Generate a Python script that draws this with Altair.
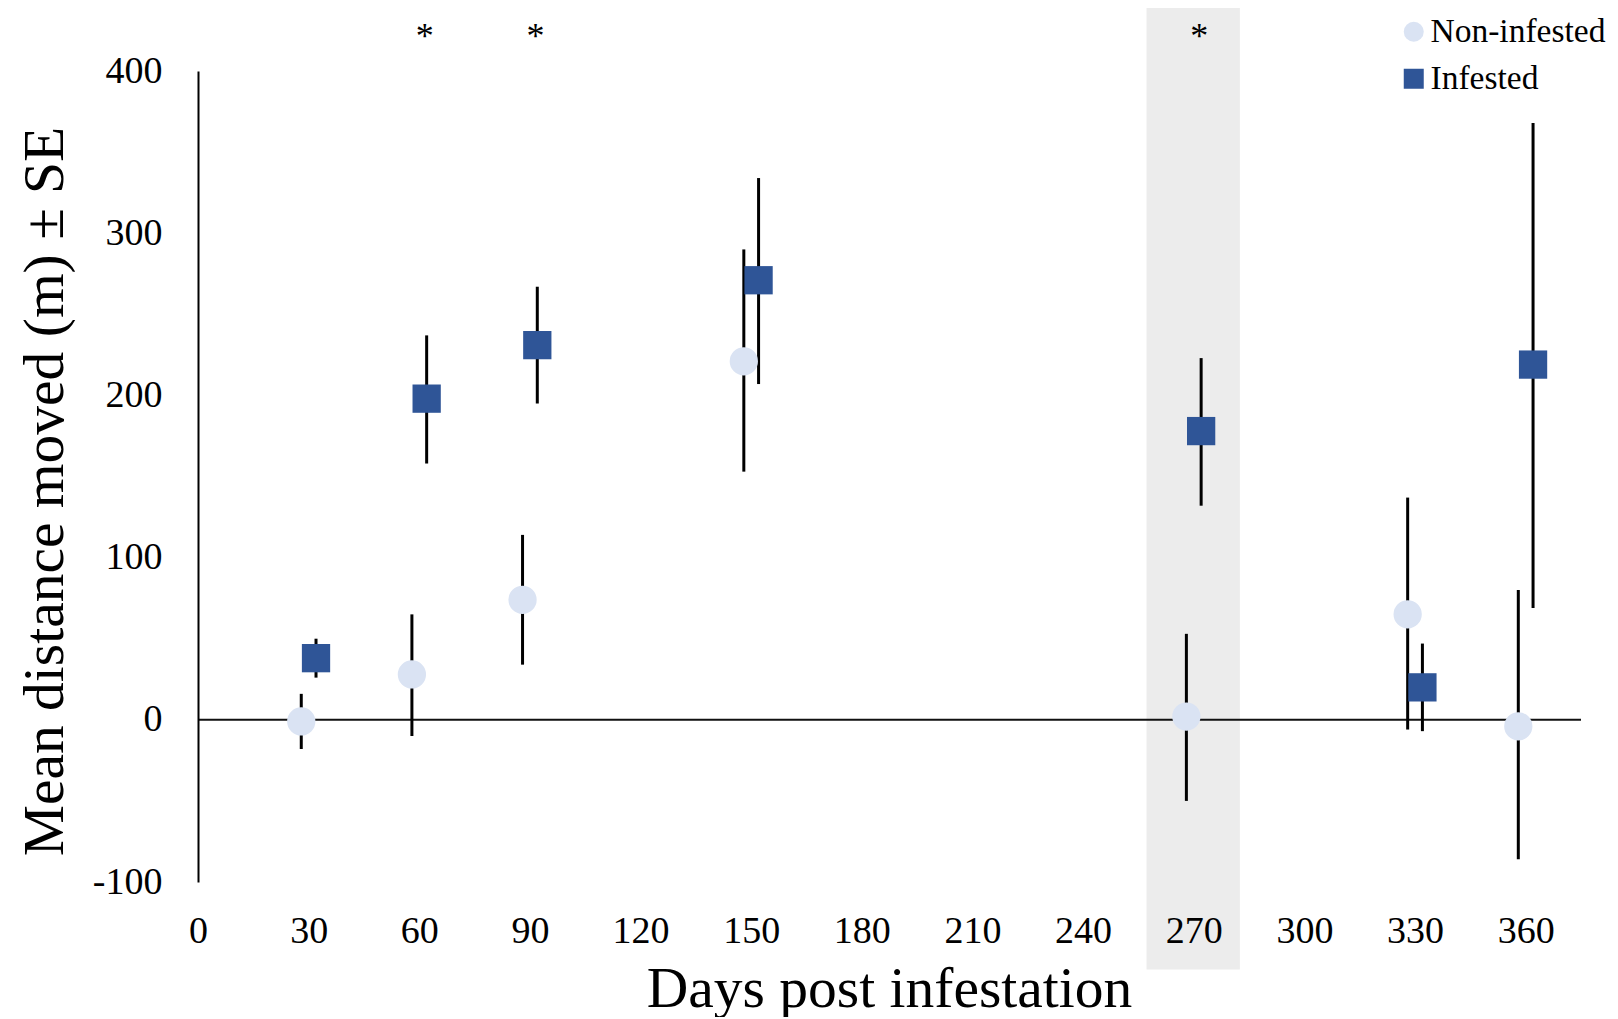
import altair as alt
import pandas as pd

# ---- data ----
days = [30, 60, 90, 150, 270, 330, 360]
non_mean = [-1, 28, 74, 221, 2, 65, -4]
non_low = [-18, -10, 34, 153, -50, -6, -86]
non_high = [16, 65, 114, 290, 53, 137, 80]
inf_mean = [38, 198, 231, 271, 178, 20, 219]
inf_low = [26, 158, 195, 207, 132, -7, 69]
inf_high = [50, 237, 267, 334, 223, 47, 368]
series = ["Non-infested", "Infested"]
series_colors = ["#DAE3F3", "#2F5597"]
series_shapes = ["circle", "square"]
sig_days = [60, 90, 270]
band_days = [257.2, 282.5]
x_ticks = [0, 30, 60, 90, 120, 150, 180, 210, 240, 270, 300, 330, 360]
y_ticks = [-100, 0, 100, 200, 300, 400]

FONT = "Liberation Serif"

rows = []
for i, d in enumerate(days):
    rows.append({"day": d, "group": series[0], "mean": non_mean[i], "low": non_low[i], "high": non_high[i]})
for i, d in enumerate(days):
    rows.append({"day": d, "group": series[1], "mean": inf_mean[i], "low": inf_low[i], "high": inf_high[i]})
df = pd.DataFrame(rows)

band_df = pd.DataFrame({"b0": [band_days[0]], "b1": [band_days[1]]})
zero_df = pd.DataFrame({"y": [0]})
sig_df = pd.DataFrame({"day": sig_days, "label": ["*"] * len(sig_days)})

xscale = alt.Scale(domain=[0, 375], nice=False, zero=False)
yscale = alt.Scale(domain=[-100, 400], nice=False, zero=False)

common_axis = dict(
    labelFont=FONT, labelFontSize=38, labelColor="black",
    titleFont=FONT, titleFontSize=57.5, titleFontWeight="normal", titleColor="black",
    ticks=False, tickSize=0, labelFlush=False, labelOverlap=False, grid=False,
    labelExpr="'' + datum.value",
)

xaxis = alt.Axis(
    values=x_ticks, title="Days post infestation", domain=False,
    labelPadding=60, labelBaseline="alphabetic",
    titleX=691, titleY=124, titleBaseline="alphabetic", titleAlign="center", zindex=2,
    **common_axis,
)
yaxis = alt.Axis(
    values=y_ticks, title="Mean distance moved (m) \u00b1 SE", domain=True, domainColor="black",
    domainWidth=2, labelPadding=36,
    titleX=-136, titleY=420, titleBaseline="alphabetic", titleAlign="center", titleAngle=270,
    zindex=2,
    **common_axis,
)

xpos = alt.X("xpos:Q", scale=xscale, axis=xaxis)

band = alt.Chart(band_df).mark_rect(color="#ececec", clip=False).encode(
    x=alt.X("b0:Q", scale=xscale, axis=xaxis),
    x2="b1:Q",
    y=alt.datum(440, scale=yscale, axis=yaxis),
    y2=alt.datum(-154),
)

zero = alt.Chart(zero_df).mark_rule(color="#111111", strokeWidth=2).encode(
    y=alt.Y("y:Q", scale=yscale, axis=yaxis)
)

base = alt.Chart(df).transform_calculate(
    xpos="datum.day + (datum.group == 'Infested' ? 2 : -2)"
)

errbars = base.mark_rule(color="black", strokeWidth=3).encode(
    x=xpos,
    y=alt.Y("low:Q", scale=yscale, axis=yaxis),
    y2="high:Q",
)

legend = alt.Legend(
    title=None, orient="none", legendX=1199, legendY=-56, symbolSize=400,
    labelFont=FONT, labelFontSize=33.5, labelColor="black", labelOffset=0, labelLimit=0,
    rowPadding=12, padding=0, symbolStrokeWidth=0,
)

points = base.mark_point(filled=True, opacity=1, size=800, strokeWidth=0).encode(
    x=xpos,
    y=alt.Y("mean:Q", scale=yscale, axis=yaxis),
    color=alt.Color("group:N", scale=alt.Scale(domain=series, range=series_colors), legend=legend),
    shape=alt.Shape("group:N", scale=alt.Scale(domain=series, range=series_shapes), legend=legend),
)

stars = alt.Chart(sig_df).transform_calculate(sx="datum.day + 1.5").mark_text(
    font=FONT, fontSize=36, baseline="alphabetic", align="center", color="black", clip=False
).encode(
    x=alt.X("sx:Q", scale=xscale, axis=xaxis),
    y=alt.datum(414, scale=yscale),
    text="label:N",
)

chart = alt.layer(band, zero, errbars, points, stars).properties(
    width=1383, height=811,
    autosize=alt.AutoSizeParams(type="none"),
    padding={"left": 190, "top": 63, "right": 29, "bottom": 135},
    background="white",
).configure_view(stroke=None)

chart.save("out.html", embed_options={"renderer": "svg", "actions": False})
